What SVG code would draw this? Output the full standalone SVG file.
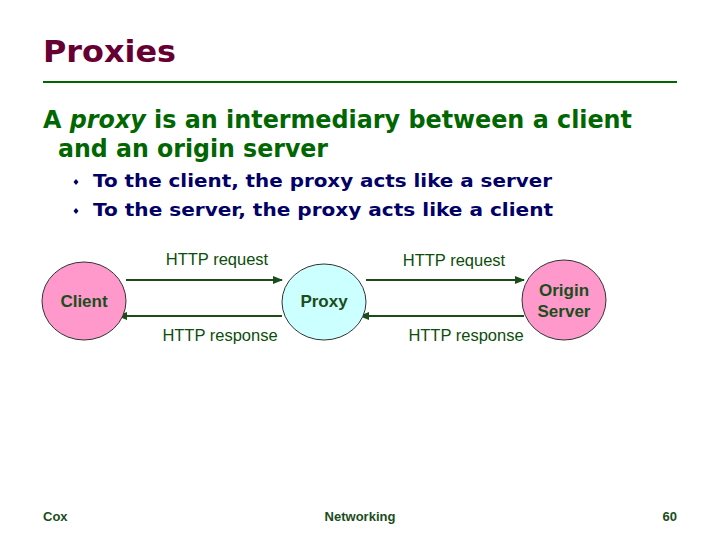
<svg xmlns="http://www.w3.org/2000/svg" width="720" height="540" viewBox="0 0 720 540">
<style>
.title{font-family:"DejaVu Sans",Verdana,sans-serif;font-weight:bold;font-size:31px;fill:#660033}
.main{font-family:"DejaVu Sans",Verdana,sans-serif;font-weight:bold;font-size:24px;fill:#006600}
.bul{font-family:"DejaVu Sans",Verdana,sans-serif;font-weight:bold;font-size:18.5px;fill:#000066}
.lbl{font-family:"Liberation Sans",Arial,sans-serif;font-size:16.5px;fill:#0d4d0d}
.node{font-family:"Liberation Sans",Arial,sans-serif;font-weight:bold;font-size:17px;fill:#1a4d1a}
.foot{font-family:"Liberation Sans",Arial,sans-serif;font-weight:bold;font-size:13px;fill:#1a4d1a}
.conn{stroke:#1a4d1a;stroke-width:2;fill:none}
</style>
<defs>
<marker id="ah" viewBox="0 0 10 10" refX="9" refY="5" markerWidth="5" markerHeight="5" orient="auto" markerUnits="strokeWidth">
<path d="M0,1 L10,5 L0,9 Z" fill="#1a4d1a"/>
</marker>
</defs>
<rect width="720" height="540" fill="#ffffff"/>
<text class="title" x="43" y="62" textLength="133" lengthAdjust="spacingAndGlyphs">Proxies</text>
<line x1="43" y1="82" x2="677" y2="82" stroke="#006600" stroke-width="2"/>
<text class="main" x="43" y="128" textLength="589" lengthAdjust="spacingAndGlyphs">A <tspan font-style="italic">proxy</tspan> is an intermediary between a client</text>
<text class="main" x="58" y="157" textLength="270" lengthAdjust="spacingAndGlyphs">and an origin server</text>
<path d="M76,179 L78.5,182 L76,185 L73.5,182 Z" fill="#000066"/>
<text class="bul" x="93" y="187" textLength="459" lengthAdjust="spacingAndGlyphs">To the client, the proxy acts like a server</text>
<path d="M76,208 L78.5,211 L76,214 L73.5,211 Z" fill="#000066"/>
<text class="bul" x="93" y="216" textLength="460" lengthAdjust="spacingAndGlyphs">To the server, the proxy acts like a client</text>
<g id="connectors">
<line class="conn" x1="126" y1="280" x2="282" y2="280" marker-end="url(#ah)"/>
<line class="conn" x1="282" y1="316" x2="118" y2="316" marker-end="url(#ah)"/>
<line class="conn" x1="366" y1="280" x2="524" y2="280" marker-end="url(#ah)"/>
<line class="conn" x1="524" y1="316" x2="360" y2="316" marker-end="url(#ah)"/>
<text class="lbl" x="217" y="265" text-anchor="middle">HTTP request</text>
<text class="lbl" x="220" y="341" text-anchor="middle">HTTP response</text>
<text class="lbl" x="454" y="266" text-anchor="middle">HTTP request</text>
<text class="lbl" x="466" y="341" text-anchor="middle">HTTP response</text>
</g>
<g id="client">
<ellipse cx="84" cy="301" rx="42" ry="39" fill="#ff99cc" stroke="#333333" stroke-width="1"/>
<text class="node" x="84" y="307" text-anchor="middle">Client</text>
</g>
<g id="proxy">
<ellipse cx="324" cy="302" rx="42" ry="38" fill="#ccffff" stroke="#333333" stroke-width="1"/>
<text class="node" x="324" y="307" text-anchor="middle">Proxy</text>
</g>
<g id="origin">
<ellipse cx="564" cy="300" rx="42" ry="40" fill="#ff99cc" stroke="#333333" stroke-width="1"/>
<text class="node" x="564" y="296" text-anchor="middle">Origin</text>
<text class="node" x="564" y="317" text-anchor="middle">Server</text>
</g>
<text class="foot" x="43" y="521">Cox</text>
<text class="foot" x="360" y="521" text-anchor="middle">Networking</text>
<text class="foot" x="677" y="521" text-anchor="end">60</text>
</svg>
